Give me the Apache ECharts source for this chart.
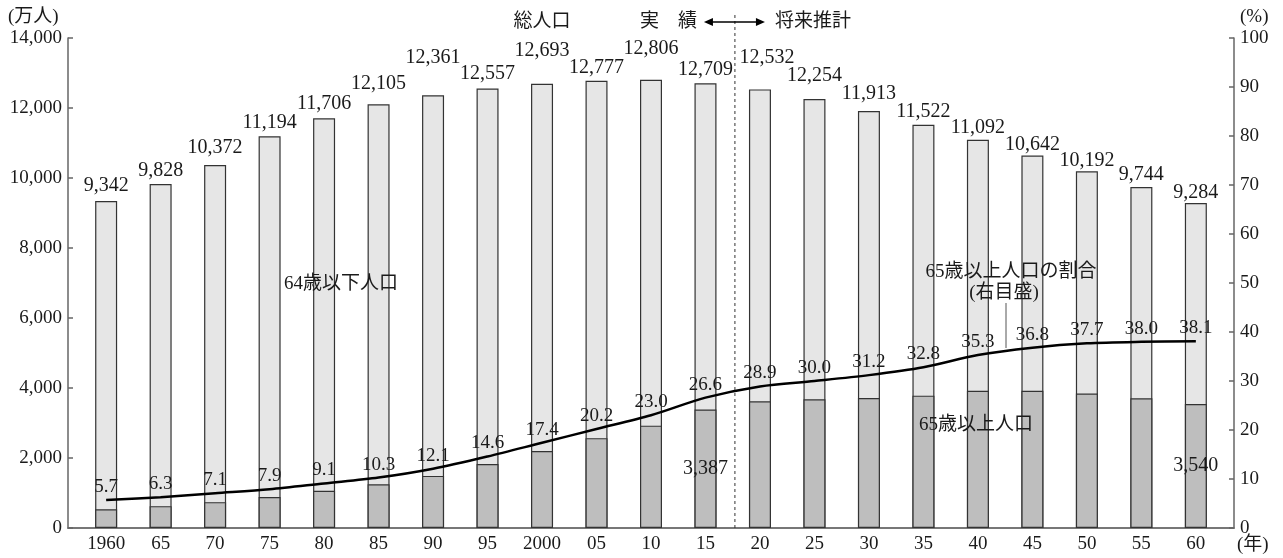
<!DOCTYPE html>
<html>
<head>
<meta charset="utf-8">
<script src="https://cdn.jsdelivr.net/npm/echarts@6/dist/echarts.min.js"></script>
<style>
  html, body { margin: 0; padding: 0; background: #fff; }
  #chart { width: 1283px; height: 558px; }
</style>
</head>
<body>
<div id="chart"></div>
<script>
// ---- data (万人, %) ----
const years = [1960, 1965, 1970, 1975, 1980, 1985, 1990, 1995, 2000, 2005, 2010, 2015,
               2020, 2025, 2030, 2035, 2040, 2045, 2050, 2055, 2060];
const yearLabels = ['1960', '65', '70', '75', '80', '85', '90', '95', '2000', '05', '10', '15',
                    '20', '25', '30', '35', '40', '45', '50', '55', '60'];
const totalPop = [9342, 9828, 10372, 11194, 11706, 12105, 12361, 12557, 12693, 12777, 12806, 12709,
                  12532, 12254, 11913, 11522, 11092, 10642, 10192, 9744, 9284];
const elderlyPop = [535, 624, 739, 887, 1065, 1247, 1489, 1826, 2201, 2567, 2925, 3387,
                    3619, 3677, 3716, 3782, 3921, 3919, 3841, 3704, 3540];
const elderlyShare = [5.7, 6.3, 7.1, 7.9, 9.1, 10.3, 12.1, 14.6, 17.4, 20.2, 23.0, 26.6,
                      28.9, 30.0, 31.2, 32.8, 35.3, 36.8, 37.7, 38.0, 38.1];
const elderlyLabelled = [2015, 2060];
const lastActualYear = 2015;
const firstProjectedYear = 2020;

// ---- label placement (px gap between bar top and total label) ----
const totalLabelGap = [15, 13, 17, 13, 15, 21, 38, 15, 33, 13, 31, 13, 32, 23, 17, 13, 12, 11, 11, 12, 10];

const FONT = "'Liberation Serif', 'Noto Sans CJK JP', serif";
const INK = '#1a1a1a';
const AXIS = '#666';

const chart = echarts.init(document.getElementById('chart'));

const option = {
  animation: false,
  backgroundColor: '#fff',
  textStyle: { fontFamily: FONT, color: INK },
  grid: { left: 68, right: 49, top: 38, bottom: 30 },
  xAxis: {
    type: 'value',
    min: 1956.5,
    max: 2063.5,
    splitLine: { show: false },
    axisTick: { show: false },
    axisLine: { show: true, lineStyle: { color: '#777', width: 2 } },
    axisLabel: {
      customValues: years,
      formatter: v => yearLabels[years.indexOf(v)],
      fontFamily: FONT, fontSize: 19, color: INK, margin: 7
    }
  },
  yAxis: [
    {
      type: 'value', min: 0, max: 14000, interval: 2000, position: 'left',
      splitLine: { show: false },
      axisLine: { show: true, lineStyle: { color: AXIS, width: 1.5 } },
      axisTick: { show: true, inside: true, length: 5, lineStyle: { color: AXIS, width: 1.5 } },
      axisLabel: {
        fontFamily: FONT, fontSize: 19, color: INK, margin: 6,
        formatter: v => v.toLocaleString('en-US')
      }
    },
    {
      type: 'value', min: 0, max: 100, interval: 10, position: 'right',
      splitLine: { show: false },
      axisLine: { show: true, lineStyle: { color: AXIS, width: 1.5 } },
      axisTick: { show: true, inside: true, length: 5, lineStyle: { color: AXIS, width: 1.5 } },
      axisLabel: { fontFamily: FONT, fontSize: 19, color: INK, margin: 6 }
    }
  ],
  series: [
    {
      // full bar = total population; the 65+ bar is drawn over its lower part
      name: '総人口',
      type: 'bar',
      barWidth: 22,
      barGap: '-100%',
      yAxisIndex: 0,
      itemStyle: { color: '#e6e6e6', borderColor: '#333', borderWidth: 1.2 },
      data: years.map((y, i) => ({
        value: [y, totalPop[i]],
        label: {
          show: true,
          position: 'top',
          distance: totalLabelGap[i] - 10,
          offset: [y === firstProjectedYear ? 7 : 0, 0],
          formatter: () => totalPop[i].toLocaleString('en-US'),
          fontFamily: FONT, fontSize: 20, color: INK
        }
      }))
    },
    {
      name: '65歳以上人口',
      type: 'bar',
      barWidth: 22,
      barGap: '-100%',
      yAxisIndex: 0,
      itemStyle: { color: '#bebebe', borderColor: '#333', borderWidth: 1.2 },
      data: years.map((y, i) => ({
        value: [y, elderlyPop[i]],
        label: {
          show: elderlyLabelled.includes(y),
          position: 'inside',
          formatter: () => elderlyPop[i].toLocaleString('en-US'),
          fontFamily: FONT, fontSize: 20, color: INK
        }
      }))
    },
    {
      name: '65歳以上人口の割合',
      type: 'line',
      yAxisIndex: 1,
      smooth: 0.3,
      symbol: 'circle',
      symbolSize: 1,
      showSymbol: true,
      itemStyle: { color: 'rgba(0,0,0,0)' },
      lineStyle: { color: '#000', width: 2.5 },
      label: {
        show: true, position: 'top', distance: 3,
        formatter: p => elderlyShare[p.dataIndex].toFixed(1),
        fontFamily: FONT, fontSize: 19, color: INK
      },
      data: years.map((y, i) => [y, elderlyShare[i]]),
      z: 5
    }
  ]
};

chart.setOption(option);

// ---- annotations: actual / projection divider, axis units, series captions ----
const boundaryX = chart.convertToPixel({ xAxisIndex: 0 }, (lastActualYear + firstProjectedYear) / 2 + 0.2);
const totalCaptionX = chart.convertToPixel({ xAxisIndex: 0 }, 2000);
const axisBottom = chart.convertToPixel({ yAxisIndex: 0 }, 0);
const arrowY = 22;
const txt = (text, x, y, align, size) => ({
  type: 'text', silent: true, z: 100,
  style: {
    text, x, y, textAlign: align, textVerticalAlign: 'middle',
    fontFamily: FONT, fontSize: size || 19, fill: INK
  }
});

chart.setOption({
  graphic: [
    // divider between actual and projected values
    { type: 'line', silent: true, z: 100,
      shape: { x1: boundaryX, y1: 15, x2: boundaryX, y2: axisBottom },
      style: { stroke: '#333', lineWidth: 1, lineDash: [3, 3] } },
    // double-headed arrow
    { type: 'line', silent: true, z: 100,
      shape: { x1: boundaryX - 24, y1: arrowY, x2: boundaryX + 23, y2: arrowY },
      style: { stroke: '#000', lineWidth: 1.3 } },
    { type: 'polygon', silent: true, z: 100,
      shape: { points: [[boundaryX - 31, arrowY], [boundaryX - 22, arrowY - 4], [boundaryX - 22, arrowY + 4]] },
      style: { fill: '#000' } },
    { type: 'polygon', silent: true, z: 100,
      shape: { points: [[boundaryX + 30, arrowY], [boundaryX + 21, arrowY - 4], [boundaryX + 21, arrowY + 4]] },
      style: { fill: '#000' } },
    txt('実　績', boundaryX - 38, arrowY, 'right'),
    txt('将来推計', boundaryX + 40, arrowY, 'left'),
    txt('総人口', totalCaptionX, arrowY, 'center'),
    // axis units
    txt('(万人)', 8, 17, 'left'),
    txt('(%)', 1240, 17, 'left'),
    txt('(年)', 1237, 545, 'left'),
    // series captions
    txt('64歳以下人口', 341, 284, 'center'),
    txt('65歳以上人口の割合', 1011, 272, 'center'),
    txt('(右目盛)', 1004, 293, 'center'),
    { type: 'line', silent: true, z: 100,
      shape: { x1: 1006, y1: 303, x2: 1006, y2: 348 },
      style: { stroke: '#555', lineWidth: 1 } },
    txt('65歳以上人口', 976, 425, 'center')
  ]
});
</script>
</body>
</html>
